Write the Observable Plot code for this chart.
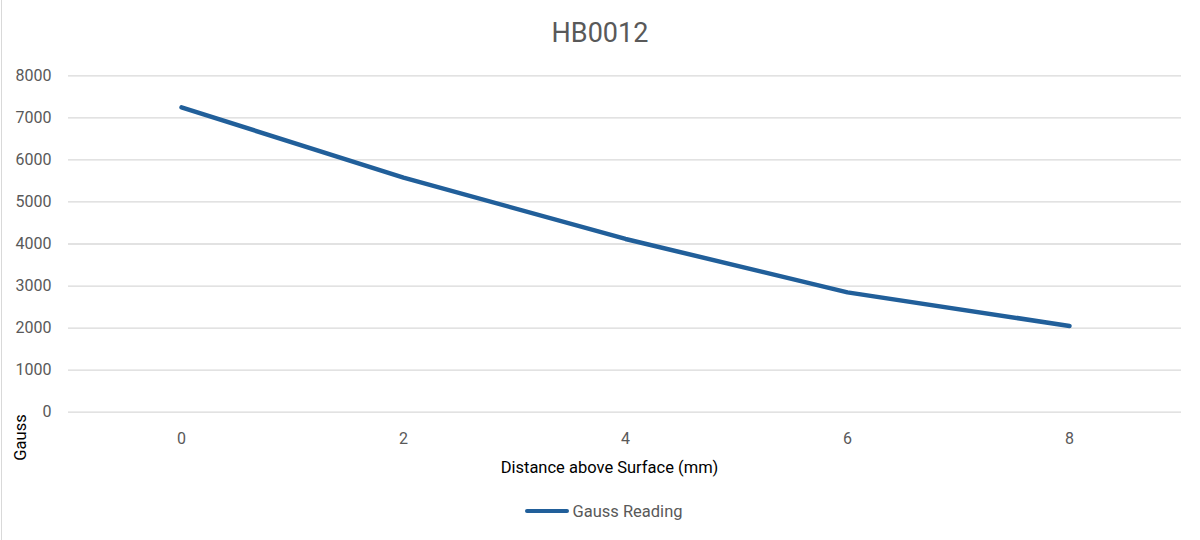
<!DOCTYPE html>
<html>
<head>
<meta charset="utf-8">
<script src="https://cdn.jsdelivr.net/npm/d3@7"></script>
<script src="https://cdn.jsdelivr.net/npm/@observablehq/plot@0.6"></script>
<style>
  html, body { margin: 0; padding: 0; background: #fff; }
  body { width: 1200px; height: 540px; position: relative; overflow: hidden; font-family: Roboto, "Liberation Sans", sans-serif; }
  #border { position: absolute; left: 1px; top: 0; width: 1px; height: 540px; background: #d9d9d9; }
  #title { height: 60px; line-height: 66px; text-align: center; font-size: 27px; color: #595959; }
  #legend { height: 42px; display: flex; align-items: center; justify-content: center; font-size: 16.5px; color: #595959; padding-left: 8px; }
  #legend .sw { width: 44px; height: 4.5px; border-radius: 3px; background: #215f9a; margin-right: 3px; }
</style>
</head>
<body>
<div id="border"></div>
<div id="title">HB0012</div>
<div id="chart"></div>
<div id="legend"><span class="sw"></span><span>Gauss Reading</span></div>
<script>
const distances = ["0", "2", "4", "6", "8"];
const gaussValues = [7250, 5580, 4120, 2850, 2050];
const yTicks = [0, 1000, 2000, 3000, 4000, 5000, 6000, 7000, 8000];
const seriesName = "Gauss Reading";
const xLabel = "Distance above Surface (mm)";
const yLabel = "Gauss";

const data = distances.map((d, i) => ({distance: d, gauss: gaussValues[i], series: seriesName}));

const chart = Plot.plot({
  width: 1200,
  height: 430,
  marginLeft: 68,
  marginRight: 19,
  marginTop: 15.3,
  marginBottom: 78.3,
  style: {fontFamily: "Roboto, 'Liberation Sans', sans-serif", color: "#595959", background: "#fff", overflow: "visible"},
  x: {type: "point", domain: distances, padding: 0.5},
  y: {domain: [0, 8000]},
  marks: [
    Plot.ruleY(yTicks, {stroke: "#d9d9d9", strokeWidth: 1.3}),
    Plot.axisY({ticks: yTicks, tickFormat: d => String(d), tickSize: 0, tickPadding: 17, fontSize: 16, label: null}),
    Plot.axisX({tickSize: 0, tickPadding: 20, fontSize: 16, label: null}),
    Plot.line(data, {x: "distance", y: "gauss", stroke: "#215f9a", strokeWidth: 4.5, strokeLinecap: "round", strokeLinejoin: "round"}),
    Plot.text([xLabel], {frameAnchor: "bottom", textAnchor: "middle", lineAnchor: "middle", dx: -15.5, dy: 55.3, fontSize: 16.5, fill: "#000"}),
    Plot.text([yLabel], {frameAnchor: "bottom-left", textAnchor: "middle", lineAnchor: "middle", dx: -48, dy: 25.3, rotate: -90, fontSize: 16.5, fill: "#000"})
  ]
});
document.getElementById("chart").appendChild(chart);
</script>
</body>
</html>
